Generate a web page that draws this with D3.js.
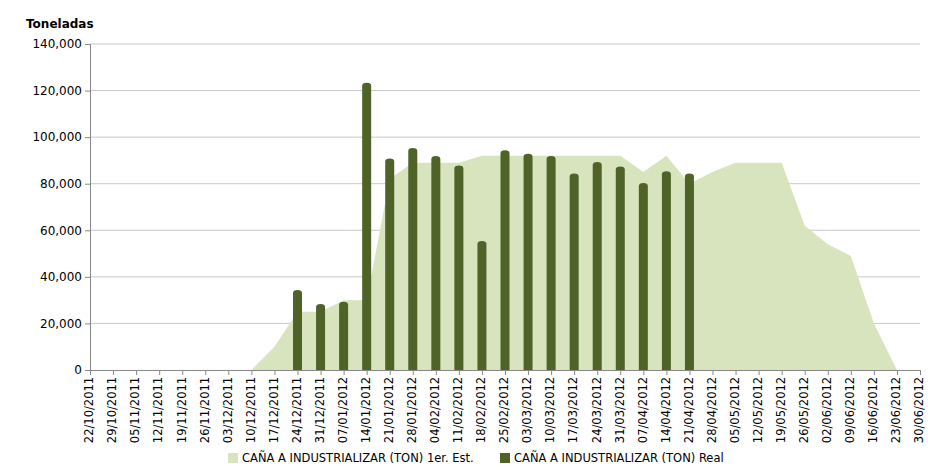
<!DOCTYPE html>
<html><head><meta charset="utf-8">
<script src="https://cdn.jsdelivr.net/npm/d3@7"></script>
<style>body{margin:0;background:#fff;font-family:"DejaVu Sans",sans-serif}</style>
</head><body><div id="chart"></div>
<script>
const dates = ["22/10/2011","29/10/2011","05/11/2011","12/11/2011","19/11/2011","26/11/2011","03/12/2011","10/12/2011","17/12/2011","24/12/2011","31/12/2011","07/01/2012","14/01/2012","21/01/2012","28/01/2012","04/02/2012","11/02/2012","18/02/2012","25/02/2012","03/03/2012","10/03/2012","17/03/2012","24/03/2012","31/03/2012","07/04/2012","14/04/2012","21/04/2012","28/04/2012","05/05/2012","12/05/2012","19/05/2012","26/05/2012","02/06/2012","09/06/2012","16/06/2012","23/06/2012","30/06/2012"];
const estimado = [0,0,0,0,0,0,0,0,10000,25000,25000,30000,30000,82000,89000,89000,89000,92000,92000,92000,92000,92000,92000,92000,85000,92000,80000,85000,89000,89000,89000,62000,54000,49000,20000,0,null];
const real = [null,null,null,null,null,null,null,null,null,35000,29000,30000,124000,91500,96000,92500,88500,56000,95000,93500,92500,85000,90000,88000,81000,86000,85000];
const yTicks = [0,20000,40000,60000,80000,100000,120000,140000];

const W = 928, H = 476, m = {l:90, r:8, t:44, b:106};
const svg = d3.select("#chart").append("svg").attr("width", W).attr("height", H);
const x = d3.scalePoint().domain(dates).range([m.l, W - m.r]);
const y = d3.scaleLinear().domain([0,140000]).range([H - m.b, m.t]);

svg.append("g").selectAll("line").data(yTicks.slice(1)).join("line")
  .attr("x1", m.l).attr("x2", W - m.r).attr("y1", d => y(d)).attr("y2", d => y(d))
  .attr("stroke", "#c8c8c8");

const area = d3.area().defined(d => d.v != null)
  .x(d => x(d.k)).y0(y(0)).y1(d => y(d.v));
svg.append("path").datum(dates.map((k,i) => ({k, v: estimado[i]})))
  .attr("d", area).attr("fill", "#d7e4bd");

const bw = 9;
svg.append("g").selectAll("path").data(real.map((v,i) => ({k: dates[i], v})).filter(d => d.v != null))
  .join("path").attr("fill", "#4f6228")
  .attr("d", d => {
    const cx = x(d.k), t = y(d.v), b = y(0), r = bw/2;
    return `M${cx-r},${b}V${t+r}A${r},${r/1.5} 0 0 1 ${cx+r},${t+r}V${b}Z`;
  });

const ya = svg.append("g").attr("transform", `translate(${m.l},0)`)
  .call(d3.axisLeft(y).tickValues(yTicks).tickFormat(d3.format(",")).tickSize(5));
ya.select(".domain").attr("stroke", "#888");
ya.selectAll(".tick line").attr("stroke", "#888");
ya.selectAll("text").attr("font-size", 12).attr("fill", "#000").attr("font-family", "DejaVu Sans");

const xa = svg.append("g").attr("transform", `translate(0,${y(0)})`)
  .call(d3.axisBottom(x).tickSize(5).tickSizeOuter(0));
xa.select(".domain").attr("stroke", "#888");
xa.selectAll(".tick line").attr("stroke", "#888");
xa.selectAll("text").attr("font-size", 11.5).attr("fill", "#000").attr("font-family", "DejaVu Sans")
  .attr("text-anchor", "end").attr("transform", "rotate(-90)").attr("dx", "-0.6em").attr("dy", "-0.45em");

svg.append("text").attr("x", 26).attr("y", 28).attr("font-size", 12).attr("font-weight", "bold").text("Toneladas");

const lg = svg.append("g").attr("font-size", 11.5);
lg.append("rect").attr("x", 228).attr("y", 453).attr("width", 10).attr("height", 10).attr("fill", "#d7e4bd");
lg.append("text").attr("x", 242).attr("y", 462).text("CAÑA A INDUSTRIALIZAR (TON) 1er. Est.");
lg.append("rect").attr("x", 500).attr("y", 453).attr("width", 10).attr("height", 10).attr("fill", "#4f6228");
lg.append("text").attr("x", 514).attr("y", 462).text("CAÑA A INDUSTRIALIZAR (TON) Real");
</script></body></html>
